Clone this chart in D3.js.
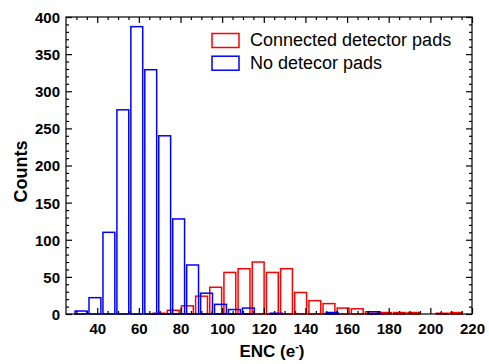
<!DOCTYPE html>
<html>
<head>
<meta charset="utf-8">
<script src="https://cdn.jsdelivr.net/npm/d3@7"></script>
<style>
  html, body { margin: 0; padding: 0; background: #fff; }
  svg { display: block; }
  text { font-family: Arial, "Liberation Sans", sans-serif; }
</style>
</head>
<body>
<svg id="chart" width="489" height="364"></svg>
<script>
// ---- data ----
const blueCenters = [32.2, 38.9, 45.6, 52.3, 59.0, 65.7, 72.4, 79.1, 85.8, 92.5, 99.2, 105.9, 112.6, 119.3, 126.0, 132.7, 139.4, 146.1, 152.8, 159.5, 166.2, 172.9];
const blueCounts  = [4, 22, 110, 275, 387, 329, 240, 128, 66, 28, 13, 6, 8, 0, 1, 0, 0, 0, 2, 0, 0, 3];
const redCenters  = [69.7, 76.5, 83.3, 90.1, 96.9, 103.7, 110.5, 117.3, 124.1, 130.9, 137.7, 144.5, 151.3, 158.1, 164.9, 171.7, 178.5, 185.3, 192.1, 198.9, 205.7, 212.5];
const redCounts   = [1, 5, 11, 24, 36, 56, 61, 70, 56, 61, 29, 18, 14, 8, 7, 3, 2, 2, 2, 0, 1, 2];
const xTickValues = [40, 60, 80, 100, 120, 140, 160, 180, 200, 220];
const yTickValues = [0, 50, 100, 150, 200, 250, 300, 350, 400];
const seriesNames = ["Connected detector pads", "No detecor pads"];
const seriesColors = ["#ff0000", "#0000ff"];

// ---- layout ----
const L = 66, R = 472, T = 17, B = 314;
const halfBin = 2.85;

const svg = d3.select("#chart");
const x = d3.scaleLinear().domain([25, 220]).range([L, R]);
const y = d3.scaleLinear().domain([0, 400]).range([B, T]);

function drawBars(centers, counts, color) {
  const data = centers.map((c, i) => ({ c, v: counts[i] })).filter(d => d.v > 0);
  svg.append("g").selectAll("rect").data(data).join("rect")
    .attr("x", d => x(d.c - halfBin))
    .attr("width", d => x(d.c + halfBin) - x(d.c - halfBin))
    .attr("y", d => y(d.v))
    .attr("height", d => y(0) - y(d.v))
    .attr("fill", "none")
    .attr("stroke", color)
    .attr("stroke-width", 1.5);
}
drawBars(redCenters, redCounts, seriesColors[0]);
drawBars(blueCenters, blueCounts, seriesColors[1]);

// ---- axes (ticks inward on all four sides) ----
const xMinor = d3.range(30, 221, 5).filter(v => !xTickValues.includes(v));
const yMinor = d3.range(0, 401, 10).filter(v => !yTickValues.includes(v));

const axB = d3.axisBottom(x).tickValues(xTickValues).tickSize(-6).tickPadding(12).tickFormat(d3.format("d"));
const axT = d3.axisTop(x).tickValues(xTickValues).tickSize(-6).tickFormat("");
const axL = d3.axisLeft(y).tickValues(yTickValues).tickSize(-6).tickPadding(12).tickFormat(d3.format("d"));
const axRt = d3.axisRight(y).tickValues(yTickValues).tickSize(-6).tickFormat("");

const mB = d3.axisBottom(x).tickValues(xMinor).tickSize(-3).tickFormat("");
const mT = d3.axisTop(x).tickValues(xMinor).tickSize(-3).tickFormat("");
const mL = d3.axisLeft(y).tickValues(yMinor).tickSize(-3).tickFormat("");
const mR = d3.axisRight(y).tickValues(yMinor).tickSize(-3).tickFormat("");

function addAxis(ax, tx, ty) {
  const g = svg.append("g").attr("transform", `translate(${tx},${ty})`).call(ax);
  g.select(".domain").remove();
  g.selectAll(".tick line").attr("stroke", "#000").attr("stroke-width", 1.2);
  g.selectAll(".tick text").attr("fill", "#000").style("font-size", "15px").style("font-weight", "bold");
  return g;
}
addAxis(mB, 0, B); addAxis(mT, 0, T); addAxis(mL, L, 0); addAxis(mR, R, 0);
const gB = addAxis(axB, 0, B);
addAxis(axT, 0, T);
const gL = addAxis(axL, L, 0);
addAxis(axRt, R, 0);
gB.selectAll(".tick text").attr("dy", "0.71em").attr("y", 9);
gL.selectAll(".tick text").attr("x", -6).attr("dy", "0.36em");

// frame
svg.append("rect").attr("x", L).attr("y", T).attr("width", R - L).attr("height", B - T)
  .attr("fill", "none").attr("stroke", "#000").attr("stroke-width", 1.2);

// ---- axis titles ----
const xt = svg.append("text").attr("x", (L + R) / 2 + 3).attr("y", 357)
  .attr("text-anchor", "middle").style("font-size", "17px").style("font-weight", "bold").attr("fill", "#000");
xt.append("tspan").text("ENC (e");
xt.append("tspan").attr("dy", -7).style("font-size", "11px").text("-");
xt.append("tspan").attr("dy", 7).text(")");

svg.append("text").attr("transform", `translate(27,${(T + B) / 2 + 6}) rotate(-90)`)
  .attr("text-anchor", "middle").style("font-size", "18px").style("font-weight", "bold").attr("fill", "#000")
  .text("Counts");

// ---- legend ----
const legend = svg.append("g");
seriesNames.forEach((name, i) => {
  const yy = 33.5 + i * 22.7;
  legend.append("rect").attr("x", 212).attr("y", yy).attr("width", 27).attr("height", 14)
    .attr("fill", "none").attr("stroke", seriesColors[i]).attr("stroke-width", 1.5);
  legend.append("text").attr("x", 250).attr("y", yy + 12.7).style("font-size", "18px").attr("fill", "#000").text(name);
});
</script>
</body>
</html>
